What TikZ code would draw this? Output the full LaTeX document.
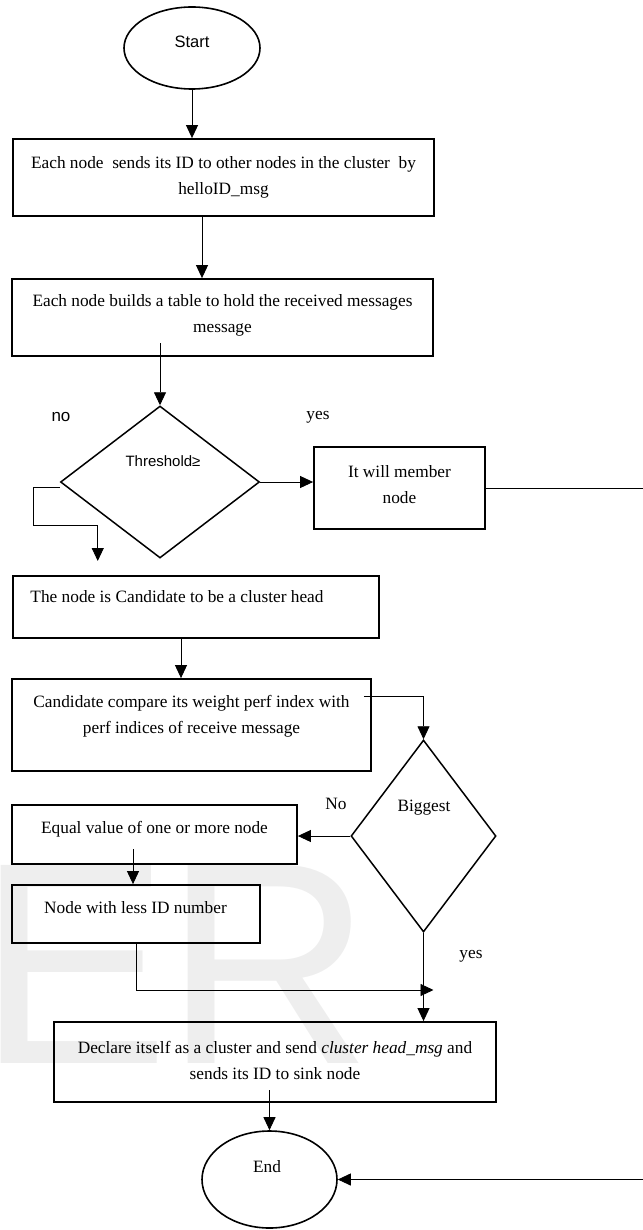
\documentclass[tikz,border=0pt]{standalone}
\usepackage{fontspec}
\setmainfont{Liberation Serif}
\newfontfamily\arialfont{Liberation Sans}
\usetikzlibrary{arrows.meta,shapes.geometric}

\begin{document}
\begin{tikzpicture}[x=1pt,y=-1pt,
  every node/.style={inner sep=0pt},
  procbox/.style={draw, line width=1.8pt, rectangle},
  term/.style={draw, line width=1.6pt, ellipse},
  decide/.style={draw, line width=1.5pt, diamond},
  txt/.style={font=\fontsize{17.3}{26}\selectfont, align=center},
  sanstxt/.style={font=\arialfont\fontsize{16.5}{20}\selectfont},
  bigletter/.style={anchor=base west, text=gray!13, font=\arialfont\fontsize{288}{288}\selectfont},
  arr/.style={line width=0.9pt, -{Triangle[length=13pt,width=12pt]}},
  link/.style={line width=0.9pt}]

\useasboundingbox (0,0) rectangle (642,1230);

% pale background lettering
\node[bigletter] (wmE) at (-23,1063) {E};
\node[bigletter] (wmR) at (164,1063) {R};

% terminals
\node[term, minimum width=136pt, minimum height=82pt] (s) at (192,48) {};
\node[sanstxt] (st) at (192,42) {Start};
\node[term, minimum width=135pt, minimum height=97pt] (e) at (269.5,1179.5) {};
\node[txt] (et) at (267,1167) {End};

% process boxes
\node[procbox, minimum width=421pt, minimum height=77pt] (b1) at (223.5,177.5) {};
\node[txt] (t1) at (223.5,177) {Each node\ \ sends its ID to other nodes in the cluster\ \ by\\helloID\_msg};

\node[procbox, minimum width=421pt, minimum height=77pt] (b2) at (222.5,317.5) {};
\node[txt] (t2) at (222.5,315) {Each node builds a table to hold the received messages\\message};

\node[procbox, minimum width=171pt, minimum height=82pt] (b3) at (399.5,488) {};
\node[txt] (t3) at (399.5,484.5) {It will member\\node};

\node[procbox, minimum width=366pt, minimum height=62pt] (b4) at (196,607) {};
\node[txt] (t4) at (177,597) {The node is Candidate to be a cluster head};

\node[procbox, minimum width=359pt, minimum height=92pt] (b5) at (191.5,725) {};
\node[txt] (t5) at (191.5,716) {Candidate compare its weight perf index with\\perf indices of receive message};

\node[procbox, minimum width=285pt, minimum height=59pt] (b6) at (154.5,834.5) {};
\node[txt] (t6) at (154.5,829) {Equal value of one or more node};

\node[procbox, minimum width=248pt, minimum height=58pt] (b7) at (136,914) {};
\node[txt] (t7) at (135.5,908) {Node with less ID number};

\node[procbox, minimum width=442pt, minimum height=80pt] (b8) at (275,1062) {};
\node[txt] (t8) at (275,1060) {Declare itself as a cluster and send \textit{cluster head\_msg} and\\sends its ID to sink node};

% decisions
\node[decide, minimum width=199pt, minimum height=152pt] (d1) at (160,482) {};
\node[sanstxt, font=\arialfont\fontsize{15}{18}\selectfont] (d1t) at (163,461) {Threshold≥};
\node[decide, minimum width=145pt, minimum height=192pt] (d2) at (423.5,836) {};
\node[txt] (d2t) at (424,808) {Biggest};

% branch labels
\node[sanstxt, font=\arialfont\fontsize{17}{20}\selectfont] (lno) at (61,417) {no};
\node[txt] (lyes) at (318,417) {yes};
\node[txt] (lNo) at (336,804) {No};
\node[txt] (lyes2) at (471,956) {yes};

% connectors
\draw[arr] (s.south) -- (s.south |- b1.north);
\draw[arr] (b1.south -| 202,0) -- (b2.north -| 202,0);
\draw[arr] (d1.north |- 0,343) -- (d1.north);
\draw[arr] (d1.east) -- (d1.east -| b3.west);
\draw[arr] (b3.east) -- ++(175,0) |- (e.east);
\draw[arr] ([yshift=-5pt]d1.west) -- ++(-26,0) -- ++(0,38) -- ++(64,0) -- ++(0,36);
\draw[arr] (b4.south -| 181,0) -- (b5.north -| 181,0);
\draw[arr] ([shift={(-8pt,29pt)}]b5.east) -| (d2.north);
\draw[arr] (d2.west) -- (d2.west -| b6.east);
\draw[arr] (133,849) -- (b7.north -| 133,0);
\draw[arr] (b7.south) |- ([xshift=10pt]d2.south |- 0,990);
\draw[arr] (d2.south) -- (d2.south |- b8.north);
\draw[arr] (e.north |- 0,1090) -- (e.north);

\end{tikzpicture}
\end{document}
